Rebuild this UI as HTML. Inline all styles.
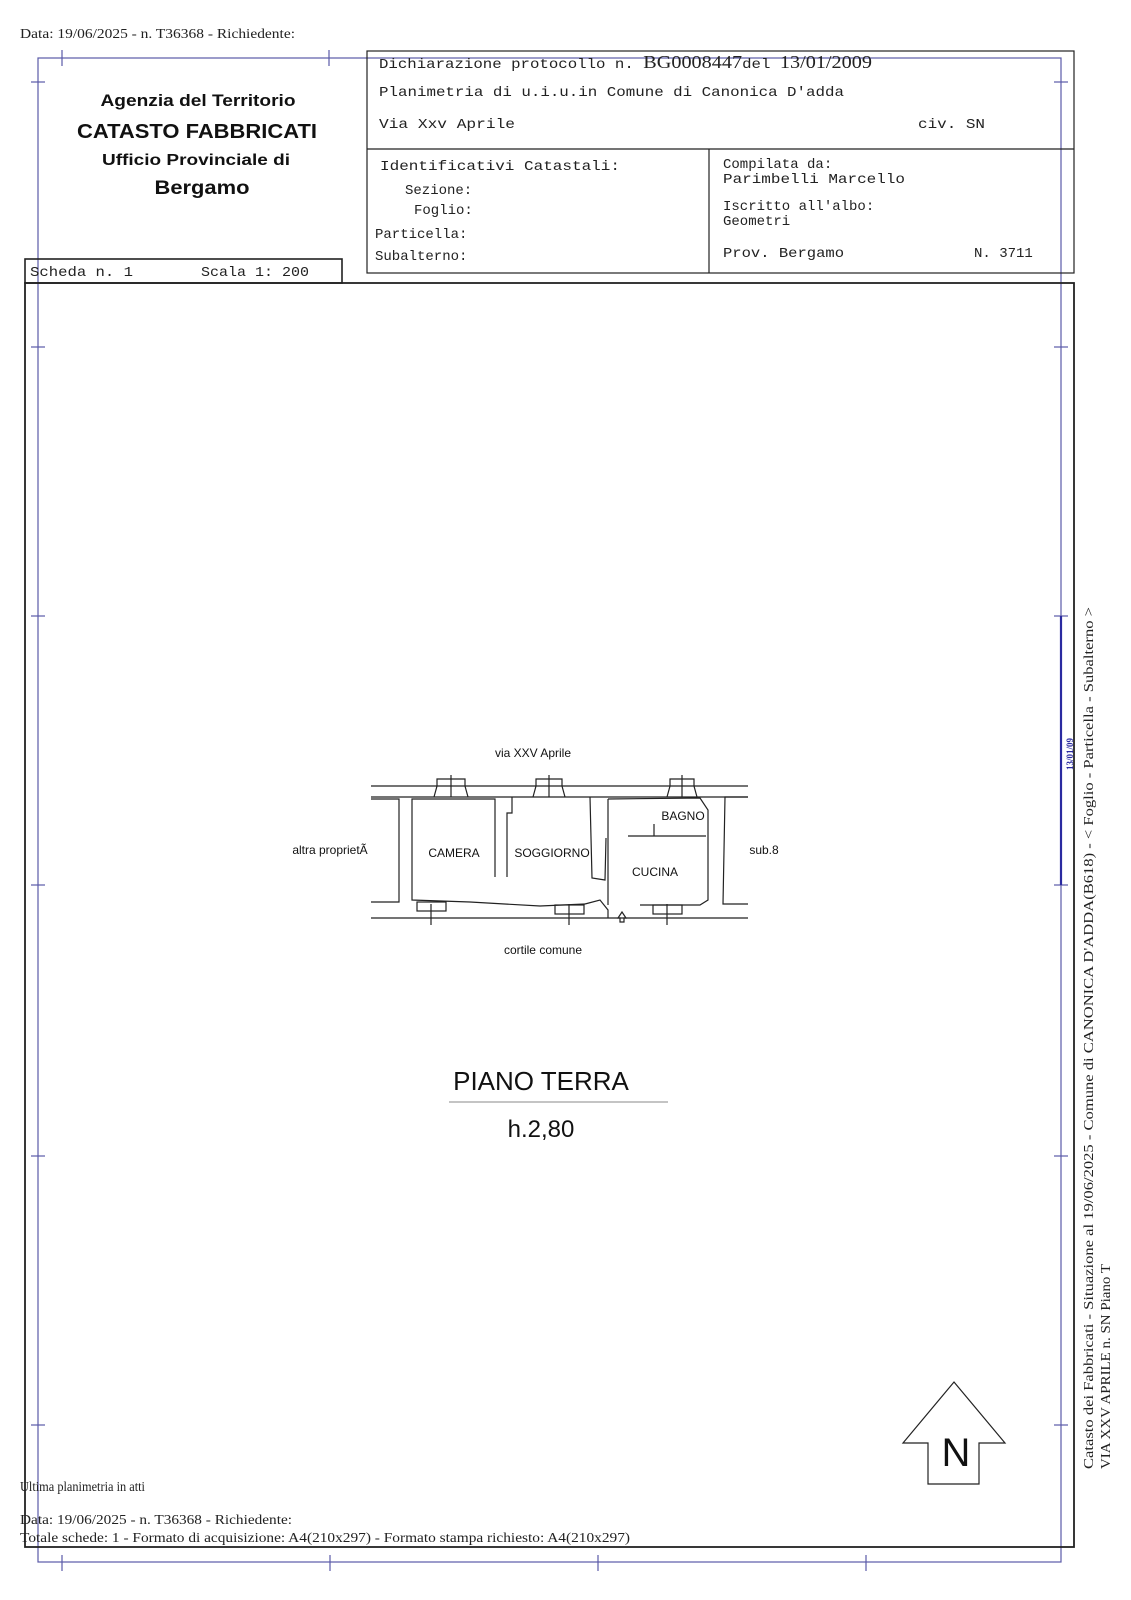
<!DOCTYPE html>
<html><head><meta charset="utf-8"><style>
html,body{margin:0;padding:0;background:#fff;}
svg{display:block;}
.m{font-family:"Liberation Mono",monospace;font-size:14px;fill:#222;}
.s{font-family:"Liberation Serif",serif;font-size:14px;fill:#222;}
.a{font-family:"Liberation Sans",sans-serif;fill:#111;}
</style></head><body>
<svg width="1131" height="1600" viewBox="0 0 1131 1600" xmlns="http://www.w3.org/2000/svg">
<text x="20" y="38" class="s" textLength="275" lengthAdjust="spacingAndGlyphs">Data: 19/06/2025 - n. T36368 - Richiedente:</text>
<g stroke="#5a5aa8" stroke-width="1.2" fill="none">
<rect x="38" y="58" width="1023" height="1504"/>
<line x1="62" y1="50" x2="62" y2="66"/><line x1="329" y1="50" x2="329" y2="66"/>
<line x1="62" y1="1555" x2="62" y2="1571"/><line x1="330" y1="1555" x2="330" y2="1571"/><line x1="598" y1="1555" x2="598" y2="1571"/><line x1="866" y1="1555" x2="866" y2="1571"/>
<line x1="31" y1="82" x2="45" y2="82"/><line x1="31" y1="347" x2="45" y2="347"/><line x1="31" y1="616" x2="45" y2="616"/><line x1="31" y1="885" x2="45" y2="885"/><line x1="31" y1="1156" x2="45" y2="1156"/><line x1="31" y1="1425" x2="45" y2="1425"/>
<line x1="1054" y1="82" x2="1068" y2="82"/><line x1="1054" y1="347" x2="1068" y2="347"/><line x1="1054" y1="616" x2="1068" y2="616"/><line x1="1054" y1="885" x2="1068" y2="885"/><line x1="1054" y1="1156" x2="1068" y2="1156"/><line x1="1054" y1="1425" x2="1068" y2="1425"/>
</g>
<line x1="1061" y1="616" x2="1061" y2="885" stroke="#2a2aa0" stroke-width="2.2"/>
<text transform="translate(1073,770) rotate(-90)" font-family="Liberation Serif,serif" font-size="9" font-weight="bold" fill="#2a2aa0">13/01/09</text>
<g stroke="#222" fill="none" stroke-width="1.2">
<rect x="367" y="51" width="707" height="222"/>
<line x1="367" y1="149" x2="1074" y2="149"/>
<line x1="709" y1="149" x2="709" y2="273"/>
<rect x="25" y="259" width="317" height="24" stroke-width="1.6"/>
<rect x="25" y="283" width="1049" height="1264" stroke-width="1.8"/>
</g>
<g class="a" text-anchor="middle" font-weight="bold">
<text x="198" y="106" font-size="17" textLength="195" lengthAdjust="spacingAndGlyphs">Agenzia del Territorio</text>
<text x="197" y="138" font-size="20" textLength="240" lengthAdjust="spacingAndGlyphs">CATASTO FABBRICATI</text>
<text x="196" y="165" font-size="16" textLength="188" lengthAdjust="spacingAndGlyphs">Ufficio Provinciale di</text>
<text x="202" y="194" font-size="19" textLength="95" lengthAdjust="spacingAndGlyphs">Bergamo</text>
</g>
<text x="379" y="68" class="m" textLength="493" lengthAdjust="spacingAndGlyphs">Dichiarazione protocollo n. <tspan font-family="Liberation Serif,serif" font-size="18">BG0008447</tspan>del  <tspan font-family="Liberation Serif,serif" font-size="18">13/01/2009</tspan></text>
<text x="379" y="96" class="m" textLength="465" lengthAdjust="spacingAndGlyphs">Planimetria di u.i.u.in Comune di Canonica D'adda</text>
<text x="379" y="128" class="m" textLength="136" lengthAdjust="spacingAndGlyphs">Via Xxv Aprile</text>
<text x="918" y="128" class="m" textLength="67" lengthAdjust="spacingAndGlyphs">civ. SN</text>
<text x="380" y="170" class="m" textLength="240" lengthAdjust="spacingAndGlyphs">Identificativi Catastali:</text>
<text x="405" y="194" class="m">Sezione:</text>
<text x="414" y="214" class="m">Foglio:</text>
<text x="375" y="238" class="m">Particella:</text>
<text x="375" y="260" class="m">Subalterno:</text>
<text x="723" y="168" class="m">Compilata da:</text>
<text x="723" y="183" class="m" textLength="182" lengthAdjust="spacingAndGlyphs">Parimbelli Marcello</text>
<text x="723" y="210" class="m">Iscritto all'albo:</text>
<text x="723" y="225" class="m">Geometri</text>
<text x="723" y="257" class="m" textLength="121" lengthAdjust="spacingAndGlyphs">Prov. Bergamo</text>
<text x="974" y="257" class="m">N. 3711</text>
<text x="30" y="276" class="m" textLength="103" lengthAdjust="spacingAndGlyphs">Scheda n. 1</text>
<text x="201" y="276" class="m" textLength="108" lengthAdjust="spacingAndGlyphs">Scala 1: 200</text>
<g stroke="#222" stroke-width="1.2" fill="none">
<line x1="371" y1="786" x2="748" y2="786"/><line x1="371" y1="797" x2="748" y2="797"/>
<line x1="371" y1="918" x2="748" y2="918"/>
<polyline points="371,799 399,799 399,902 371,902"/>
<polyline points="495,877 495,799 412,799 412,900 470,902 540,906 585,904"/>
<polyline points="507,877 507,813 512,813 512,797"/>
<polyline points="590,797 592,878 605,880 606,838"/>
<polyline points="585,904 600,900 608,910 608,918"/>
<polyline points="608,799 608,905"/>
<polyline points="608,799 700,798 708,810 708,900 700,905 640,905"/>
<polyline points="628,836 706,836"/><line x1="654" y1="824" x2="654" y2="836"/>
<polyline points="748,797 725,797 723,904 748,904"/>
<polyline points="434,797 437,786 437,779 465,779 465,786 468,797"/>
<polyline points="533,797 536,786 536,779 562,779 562,786 565,797"/>
<polyline points="667,797 670,786 670,779 694,779 694,786 697,797"/>
<rect x="417" y="902" width="29" height="9"/><rect x="555" y="905" width="29" height="9"/><rect x="653" y="905" width="29" height="9"/>
<line x1="451" y1="775" x2="451" y2="797"/><line x1="549" y1="775" x2="549" y2="797"/><line x1="682" y1="775" x2="682" y2="797"/>
<line x1="431" y1="904" x2="431" y2="925"/><line x1="569" y1="904" x2="569" y2="925"/><line x1="667" y1="904" x2="667" y2="925"/>
<path d="M618,918 l4,-6 l4,6 l-2,0 l0,4 l-4,0 l0,-4z"/>
</g>
<g class="a" font-size="12" text-anchor="middle">
<text x="533" y="757">via XXV Aprile</text>
<text x="330" y="854">altra proprietÃ</text>
<text x="454" y="857">CAMERA</text>
<text x="552" y="857">SOGGIORNO</text>
<text x="683" y="820">BAGNO</text>
<text x="655" y="876">CUCINA</text>
<text x="764" y="854">sub.8</text>
<text x="543" y="954">cortile comune</text>
</g>
<text x="541" y="1090" class="a" font-size="26" text-anchor="middle">PIANO TERRA</text>
<line x1="449" y1="1102" x2="668" y2="1102" stroke="#888" stroke-width="1"/>
<text x="541" y="1137" class="a" font-size="24" text-anchor="middle">h.2,80</text>
<polygon points="954,1382 1005,1443 979,1443 979,1484 928,1484 928,1443 903,1443" fill="#fff" stroke="#222" stroke-width="1.2"/>
<text x="956" y="1466" class="a" font-size="40" text-anchor="middle">N</text>
<text transform="translate(1093,1469) rotate(-90)" class="s" textLength="862" lengthAdjust="spacingAndGlyphs">Catasto dei Fabbricati - Situazione al 19/06/2025 - Comune di CANONICA D'ADDA(B618) - &lt; Foglio     - Particella     - Subalterno     &gt;</text>
<text transform="translate(1110,1469) rotate(-90)" class="s" textLength="205" lengthAdjust="spacingAndGlyphs">VIA XXV APRILE n. SN Piano T</text>
<text x="20" y="1491" class="s" textLength="125" lengthAdjust="spacingAndGlyphs">Ultima planimetria in atti</text>
<text x="20" y="1524" class="s" textLength="272" lengthAdjust="spacingAndGlyphs">Data: 19/06/2025 - n. T36368 - Richiedente:</text>
<text x="20" y="1542" class="s" textLength="610" lengthAdjust="spacingAndGlyphs">Totale schede: 1 - Formato di acquisizione: A4(210x297)  - Formato stampa richiesto: A4(210x297)</text>
</svg>
</body></html>
